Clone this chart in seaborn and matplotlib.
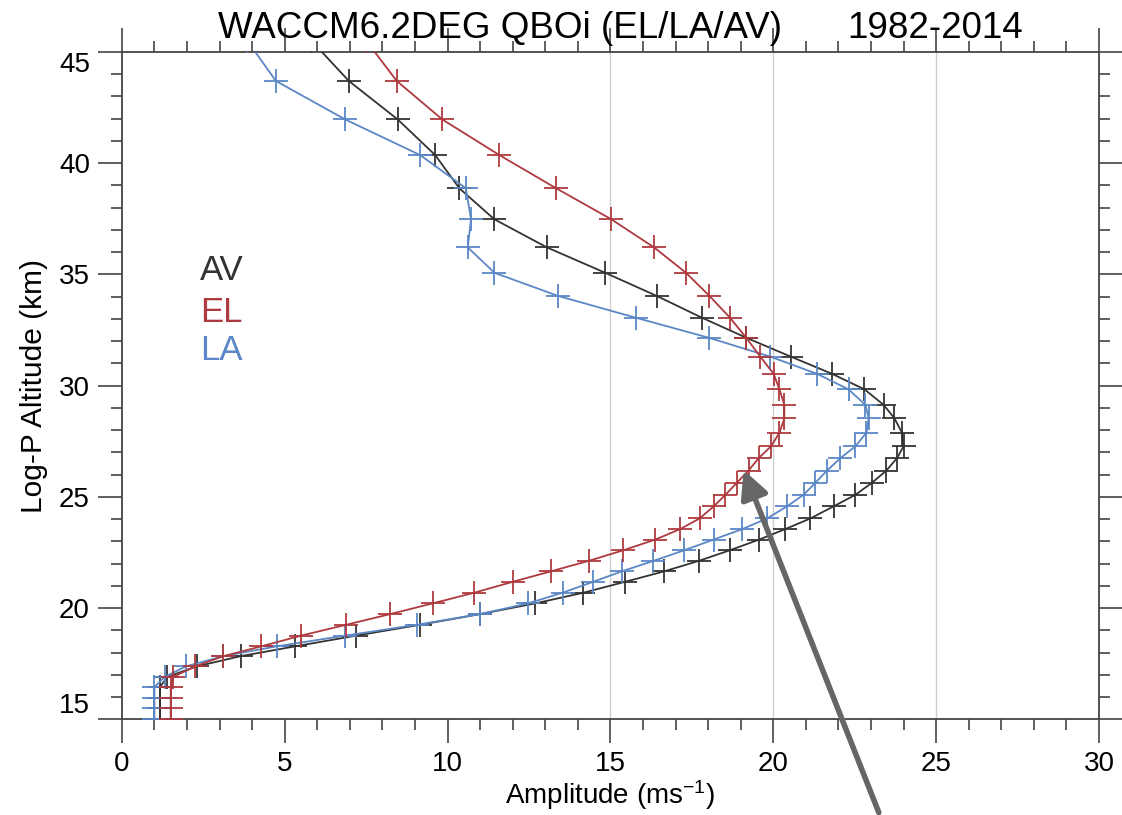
import numpy as np
import pandas as pd
import matplotlib
matplotlib.use("Agg")
import matplotlib.pyplot as plt
import seaborn as sns
from matplotlib.ticker import MultipleLocator

# ---------------- data ----------------
levels = [45.5, 43.69, 41.96, 40.36, 38.87, 37.48, 36.21, 35.07, 34.03, 33.05,
          32.15, 31.30, 30.53, 29.83, 29.13, 28.53, 27.88, 27.27, 26.74, 26.18,
          25.63, 25.09, 24.57, 24.03, 23.55, 23.08, 22.60, 22.12, 21.65, 21.18,
          20.69, 20.21, 19.73, 19.25, 18.76, 18.28, 17.84, 17.38, 16.91, 16.45,
          15.96, 15.49, 15.00]

amp_av = [5.82, 6.97, 8.47, 9.62, 10.36, 11.43, 13.05, 14.84, 16.42, 17.81,
          19.17, 20.54, 21.80, 22.80, 23.39, 23.72, 23.95, 24.00, 23.80, 23.47,
          23.03, 22.52, 21.85, 21.14, 20.37, 19.57, 18.67, 17.71, 16.65, 15.45,
          14.17, 12.69, 11.00, 9.16, 7.19, 5.32, 3.65, 2.30, 1.40, 1.17,
          1.17, 1.17, 1.17]

amp_el = [7.50, 8.44, 9.84, 11.59, 13.33, 15.02, 16.34, 17.32, 18.04, 18.67,
          19.17, 19.60, 20.01, 20.19, 20.34, 20.34, 20.19, 19.93, 19.55, 19.24,
          18.88, 18.53, 18.17, 17.74, 17.14, 16.38, 15.40, 14.33, 13.17, 12.00,
          10.82, 9.54, 8.24, 6.89, 5.50, 4.28, 3.12, 2.25, 1.58, 1.50,
          1.50, 1.50, 1.50]

amp_la = [3.85, 4.73, 6.86, 9.16, 10.56, 10.72, 10.62, 11.44, 13.39, 15.78,
          18.02, 19.91, 21.34, 22.31, 22.83, 22.93, 22.86, 22.52, 22.06, 21.65,
          21.29, 20.93, 20.42, 19.81, 19.05, 18.17, 17.27, 16.32, 15.35, 14.47,
          13.53, 12.47, 11.00, 9.06, 6.85, 4.75, 3.12, 1.97, 1.32, 1.00,
          1.00, 1.00, 1.00]

series_names = ["AV", "LA", "EL"]
series_colors = {"AV": "#333333", "EL": "#ae3a3f", "LA": "#5b87c6"}
legend_order = ["AV", "EL", "LA"]
legend_x = 2.4
legend_y = [34.74, 32.87, 31.15]

xticks = [0, 5, 10, 15, 20, 25, 30]
yticks = [15, 20, 25, 30, 35, 40, 45]
grid_x = [15, 20, 25]

title_left = "WACCM6.2DEG QBOi (EL/LA/AV)"
title_right = "1982-2014"
xlabel = "Amplitude (ms$^{-1}$)"
ylabel = "Log-P Altitude (km)"

arrow_head = (19.09, 26.21)
arrow_tail = (23.24, 10.81)

# ---------------- figure ----------------
sns.set_style("white")
plt.rcParams["font.family"] = ["Liberation Sans", "DejaVu Sans"]
plt.rcParams["mathtext.fontset"] = "custom"
plt.rcParams["mathtext.rm"] = "Liberation Sans"
plt.rcParams["mathtext.it"] = "Liberation Sans"
plt.rcParams["text.color"] = "black"
plt.rcParams["axes.labelcolor"] = "black"

fig = plt.figure(figsize=(11.22, 8.15), dpi=100)
ax = fig.add_axes([0.1086, 0.1174, 0.8709, 0.819])

for gx in grid_x:
    ax.axvline(gx, color="#cfcfcf", lw=1.0, zorder=0)

data = {"AV": amp_av, "EL": amp_el, "LA": amp_la}
for name in series_names:
    df = pd.DataFrame({"amplitude": data[name], "level": levels})
    c = series_colors[name]
    sns.lineplot(data=df, x="amplitude", y="level", sort=False, estimator=None,
                 color=c, linewidth=1.3, marker="+", markersize=17,
                 markeredgewidth=1.3, markeredgecolor=c, markerfacecolor=c,
                 ax=ax, zorder=3)

for name, yy in zip(legend_order, legend_y):
    ax.text(legend_x, yy, name, color=series_colors[name], fontsize=25,
            va="baseline", ha="left")

ax.set_xlim(0, 30)
ax.set_ylim(15, 45)
ax.set_xticks(xticks)
ax.set_yticks(yticks)
ax.xaxis.set_minor_locator(MultipleLocator(1))
ax.yaxis.set_minor_locator(MultipleLocator(1))
ax.tick_params(which="both", direction="out", top=True, right=True,
               bottom=True, left=True, labeltop=False, labelright=False,
               color="#444444", width=1.2, labelcolor="black")
ax.tick_params(which="major", length=17, pad=6, labelsize=20)
ax.tick_params(which="minor", length=8)
for sp in ax.spines.values():
    sp.set_color("#444444")
    sp.set_linewidth(1.3)

ylabels = ax.get_yticklabels()
ylabels[0].set_va("bottom")
ylabels[-1].set_va("top")

ax.set_xlabel(xlabel, fontsize=20, labelpad=1)
ax.set_ylabel(ylabel, fontsize=21.5, labelpad=8)

fig.text(218 / 1122, 1 - 38 / 815, title_left, fontsize=26.5, ha="left", va="baseline")
fig.text(1023 / 1122, 1 - 38 / 815, title_right, fontsize=26.5, ha="right", va="baseline")

ax.annotate("", xy=arrow_head, xytext=arrow_tail, xycoords="data",
            textcoords="data", annotation_clip=False,
            arrowprops=dict(arrowstyle="-|>", lw=4, color="#666666",
                            mutation_scale=42, shrinkA=0, shrinkB=0))

fig.savefig("out.png", dpi=100)
